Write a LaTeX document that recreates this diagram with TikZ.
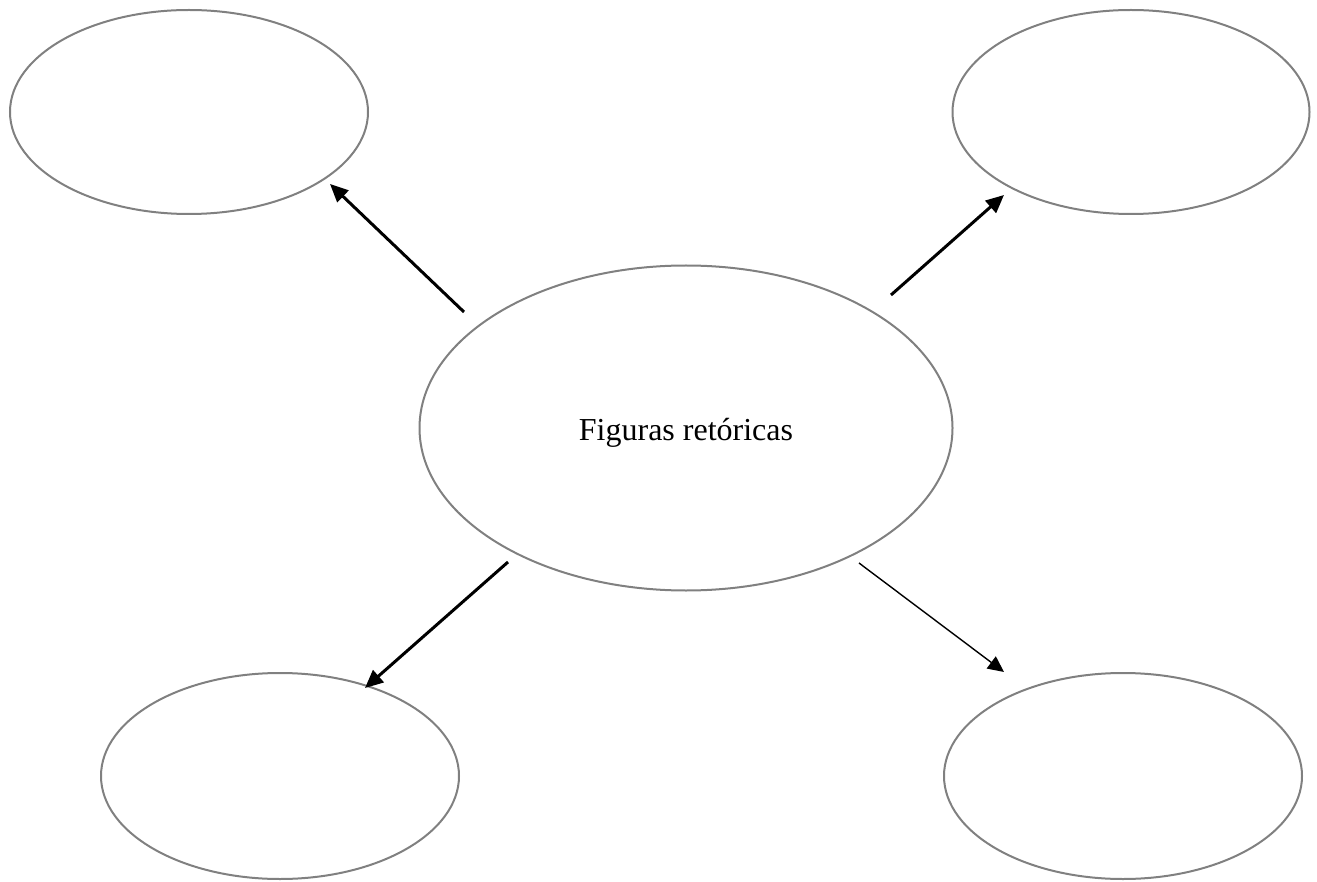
\documentclass[tikz,border=0pt]{standalone}
\usepackage{fontspec}
\setmainfont{Liberation Serif}
\usetikzlibrary{arrows.meta,shapes.geometric}
\definecolor{ringgray}{RGB}{128,128,128}
\tikzset{
  bubble/.style={draw=ringgray, line width=2pt, ellipse, inner sep=0pt},
  link/.style={draw=black, line width=3pt, -{Triangle[length=18pt,width=16pt]}},
  thinlink/.style={draw=black, line width=1.4pt, -{Triangle[length=16pt,width=15pt]}},
  title/.style={font=\fontsize{32}{38}\selectfont, inner sep=0pt, anchor=base}
}
\begin{document}
\begin{tikzpicture}[x=1pt,y=-1pt]
\useasboundingbox (0,0) rectangle (1317,882);
\node[bubble, minimum width=358pt, minimum height=204pt] (tl) at (189,112) {};
\node[bubble, minimum width=357pt, minimum height=204pt] (tr) at (1131,112) {};
\node[bubble, minimum width=533pt, minimum height=325pt] (c) at (686,428) {};
\node[title] (lbl) at (686,440) {Figuras retóricas};
\node[bubble, minimum width=358pt, minimum height=206pt] (bl) at (280,776) {};
\node[bubble, minimum width=358pt, minimum height=206pt] (br) at (1123,776) {};
\coordinate (s1) at (464,312);
\coordinate (e1) at (330,184);
\coordinate (s2) at (891,295);
\coordinate (e2) at (1004,195);
\coordinate (s3) at (508,562);
\coordinate (e3) at (365,688);
\coordinate (s4) at (859,563);
\coordinate (e4) at (1004,672);
\draw[link] (s1) -- (e1);
\draw[link] (s2) -- (e2);
\draw[link] (s3) -- (e3);
\draw[thinlink] (s4) -- (e4);
\end{tikzpicture}
\end{document}
